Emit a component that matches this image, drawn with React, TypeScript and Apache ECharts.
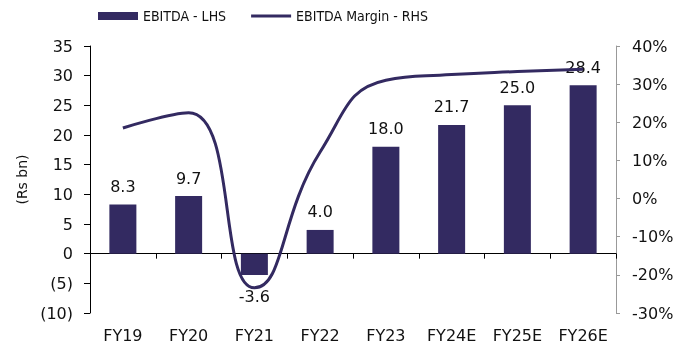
import React, { useEffect, useRef } from "react";
import * as echarts from "echarts";

const categories = ["FY19", "FY20", "FY21", "FY22", "FY23", "FY24E", "FY25E", "FY26E"];
const ebitda = [8.3, 9.7, -3.6, 4.0, 18.0, 21.7, 25.0, 28.4];
const ebitdaMargin = [18.5, 22.5, -23.4, 12.2, 31.0, 32.5, 33.3, 33.9];

const NAVY = "#332a61";
const FONT = "DejaVu Sans";
const TEXT = "#111";

// flat 3px stroke centred in the 40x8 legend box
const LINE_ICON = "path://M0,0H40V0.01H0Z M0,2.5H40V5.5H0Z M0,7.99H40V8H0Z";

export default function App() {
  const ref = useRef<HTMLDivElement>(null);

  useEffect(() => {
    if (!ref.current) return;
    const chart = echarts.init(ref.current, undefined, { renderer: "svg" });

    // negative bars carry their value label underneath
    const barData = ebitda.map((v) =>
      v < 0 ? { value: v, label: { position: "bottom" as const, distance: 13 } } : v
    );

    chart.setOption({
      animation: false,
      textStyle: { fontFamily: FONT },
      legend: {
        top: 9,
        left: 98,
        padding: 0,
        itemGap: 25,
        itemWidth: 40,
        itemHeight: 8,
        textStyle: { fontFamily: "DejaVu Sans Condensed", fontSize: 14, color: TEXT },
        data: [
          { name: "EBITDA - LHS", icon: "rect" },
          { name: "EBITDA Margin - RHS", icon: LINE_ICON },
        ],
      },
      grid: { left: 90, right: 74, top: 46, bottom: 34, outerBoundsMode: "none", containLabel: false },
      xAxis: [
        {
          type: "category",
          data: categories,
          axisLine: { onZero: true, lineStyle: { color: "#000", width: 1 } },
          axisTick: { show: true, length: 5, lineStyle: { color: "#000" } },
          axisLabel: { show: false },
        },
        {
          type: "category",
          data: categories,
          position: "bottom",
          axisLine: { show: false, onZero: false },
          axisTick: { show: false },
          axisLabel: { margin: 14, fontSize: 16, color: TEXT, fontFamily: FONT },
        },
      ],
      yAxis: [
        {
          type: "value",
          min: -10,
          max: 35,
          interval: 5,
          name: "(Rs bn)",
          nameLocation: "middle",
          nameGap: 60,
          nameRotate: 90,
          nameTextStyle: { fontSize: 14, color: TEXT, fontFamily: FONT },
          axisLine: { show: true, lineStyle: { color: "#000" } },
          axisTick: { show: true, length: 6, lineStyle: { color: "#000" } },
          splitLine: { show: false },
          axisLabel: {
            fontSize: 16,
            color: TEXT,
            margin: 17,
            formatter: (v: number) => (v < 0 ? `(${Math.abs(v)})` : `${v}`),
          },
        },
        {
          type: "value",
          min: -30,
          max: 40,
          interval: 10,
          position: "right",
          axisLine: { show: true, lineStyle: { color: "#999" } },
          axisTick: { show: true, length: 4, lineStyle: { color: "#999" } },
          splitLine: { show: false },
          axisLabel: { fontSize: 16, color: TEXT, margin: 16, formatter: "{value}%" },
        },
      ],
      series: [
        {
          name: "EBITDA - LHS",
          type: "bar",
          data: barData,
          barWidth: 27,
          itemStyle: { color: NAVY },
          label: {
            show: true,
            fontSize: 16,
            color: TEXT,
            distance: 10,
            position: "top",
            formatter: (p: any) => Number(p.value).toFixed(1),
          },
        },
        {
          name: "EBITDA Margin - RHS",
          type: "line",
          yAxisIndex: 1,
          data: ebitdaMargin,
          smooth: 0.5,
          showSymbol: false,
          symbol: "none",
          lineStyle: { color: NAVY, width: 3 },
          itemStyle: { color: NAVY },
          z: 5,
        },
      ],
    });
    return () => chart.dispose();
  }, []);

  return <div ref={ref} style={{ position: "fixed", left: 0, top: 0, width: 690, height: 347 }} />;
}
